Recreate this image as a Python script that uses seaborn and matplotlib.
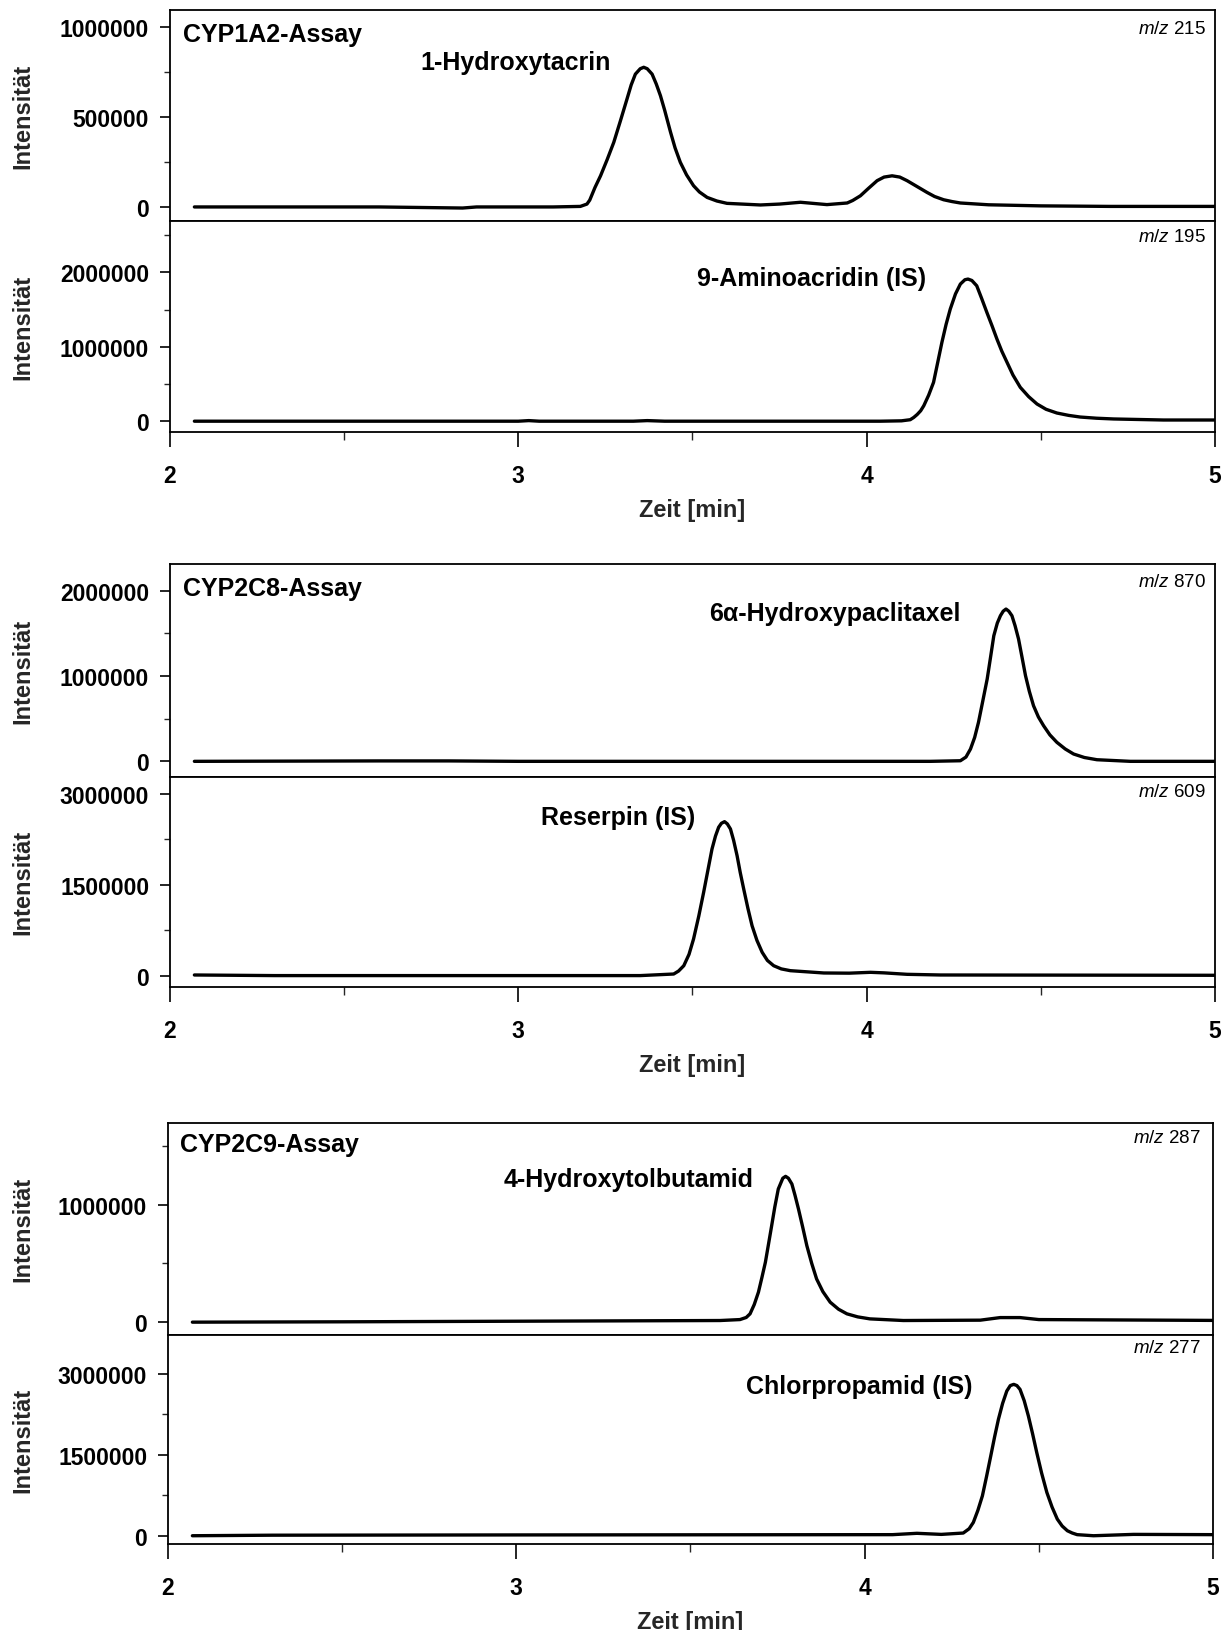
import numpy as np
import pandas as pd
import matplotlib
matplotlib.use("Agg")
import matplotlib.pyplot as plt
from matplotlib.ticker import MultipleLocator, FixedLocator
import seaborn as sns

sns.set_theme(style="white")
plt.rcParams['font.family'] = ['Liberation Sans', 'DejaVu Sans']
plt.rcParams['mathtext.fontset'] = 'custom'
plt.rcParams['mathtext.it'] = 'Liberation Sans:italic'
plt.rcParams['mathtext.rm'] = 'Liberation Sans'

# ---------------- data ----------------
t_1a2 = [2.07, 2.6, 2.84, 2.88, 3.1, 3.178, 3.197, 3.205, 3.22, 3.236,
         3.255, 3.274, 3.293, 3.312, 3.324, 3.336, 3.35, 3.36, 3.37, 3.384,
         3.396, 3.408, 3.42, 3.437, 3.45, 3.465, 3.483, 3.503, 3.52, 3.542,
         3.57, 3.599, 3.695, 3.75, 3.81, 3.886, 3.944, 3.96, 3.982, 4.005,
         4.03, 4.05, 4.073, 4.095, 4.116, 4.145, 4.173, 4.195, 4.221, 4.245,
         4.269, 4.35, 4.5, 4.7, 5.0]
i_1a2 = [2000, 2000, -4000, 2000, 2000, 5000, 18000, 40000, 110000, 175000,
         265000, 361000, 480000, 602000, 680000, 740000, 770000, 778000, 770000, 740000,
         685000, 620000, 540000, 417000, 330000, 250000, 180000, 120000, 85000, 55000,
         35000, 22000, 13000, 18000, 28000, 15000, 24000, 38000, 64000, 105000,
         148000, 168000, 175000, 168000, 148000, 115000, 83000, 60000, 42000, 32000,
         24000, 14000, 8000, 5000, 5000]

t_aa = [2.07, 3.0, 3.03, 3.06, 3.33, 3.37, 3.42, 4.039, 4.10, 4.125,
        4.135, 4.145, 4.155, 4.164, 4.178, 4.192, 4.204, 4.216, 4.228, 4.240,
        4.255, 4.269, 4.282, 4.291, 4.302, 4.316, 4.33, 4.345, 4.36, 4.374,
        4.388, 4.403, 4.42, 4.441, 4.465, 4.489, 4.515, 4.546, 4.58, 4.613,
        4.66, 4.709, 4.852, 5.0]
i_aa = [0, 0, 8000, 0, 0, 8000, 0, 0, 5000, 20000,
        50000, 90000, 140000, 208000, 350000, 522000, 790000, 1059000, 1300000, 1506000,
        1710000, 1842000, 1900000, 1909000, 1890000, 1819000, 1650000, 1462000, 1280000, 1103000,
        940000, 790000, 620000, 455000, 330000, 231000, 160000, 110000, 78000, 56000,
        40000, 30000, 16000, 16000]

t_2c8 = [2.07, 2.6, 2.8, 3.0, 4.183, 4.269, 4.285, 4.298, 4.31, 4.321,
         4.333, 4.346, 4.356, 4.365, 4.375, 4.384, 4.392, 4.400, 4.408, 4.417,
         4.426, 4.436, 4.446, 4.456, 4.467, 4.479, 4.493, 4.508, 4.526, 4.546,
         4.57, 4.594, 4.625, 4.661, 4.757, 5.0]
i_2c8 = [0, 5000, 5000, 0, 0, 7000, 50000, 144000, 280000, 457000,
         700000, 965000, 1230000, 1472000, 1620000, 1707000, 1760000, 1785000, 1760000, 1707000,
         1590000, 1434000, 1220000, 1004000, 820000, 652000, 520000, 417000, 310000, 223000,
         145000, 86000, 45000, 19000, 0, 0]

t_res = [2.07, 2.3, 3.0, 3.350, 3.446, 3.46, 3.475, 3.49, 3.503, 3.518,
         3.532, 3.545, 3.556, 3.566, 3.575, 3.583, 3.592, 3.600, 3.609, 3.618,
         3.628, 3.637, 3.647, 3.659, 3.671, 3.685, 3.700, 3.715, 3.733, 3.755,
         3.781, 3.877, 3.95, 4.011, 4.05, 4.116, 4.212, 5.0]
i_res = [10000, 0, 0, 0, 26000, 75000, 163000, 350000, 603000, 980000,
         1373000, 1760000, 2087000, 2300000, 2444000, 2510000, 2537000, 2500000, 2416000, 2230000,
         1976000, 1700000, 1427000, 1110000, 822000, 580000, 384000, 250000, 163000, 110000,
         81000, 43000, 40000, 54000, 45000, 21000, 10000, 5000]

t_2c9 = [2.07, 2.5, 3.0, 3.585, 3.642, 3.66, 3.671, 3.683, 3.695, 3.705,
         3.715, 3.724, 3.733, 3.742, 3.752, 3.765, 3.773, 3.781, 3.791, 3.80,
         3.810, 3.822, 3.834, 3.848, 3.862, 3.88, 3.901, 3.925, 3.949, 3.98,
         4.015, 4.111, 4.332, 4.389, 4.446, 4.5, 5.0]
i_2c9 = [0, 3000, 8000, 14000, 22000, 40000, 71000, 150000, 255000, 380000,
         510000, 665000, 821000, 980000, 1133000, 1225000, 1241000, 1225000, 1176000, 1080000,
         963000, 810000, 651000, 500000, 368000, 260000, 170000, 110000, 71000, 45000,
         28000, 14000, 17000, 39000, 39000, 22000, 15000]

t_chl = [2.07, 2.3, 3.0, 4.08, 4.15, 4.22, 4.283, 4.30, 4.312, 4.325,
         4.338, 4.35, 4.362, 4.373, 4.384, 4.396, 4.408, 4.418, 4.428, 4.437,
         4.446, 4.458, 4.470, 4.482, 4.494, 4.508, 4.523, 4.538, 4.553, 4.567,
         4.582, 4.596, 4.610, 4.657, 4.772, 5.0]
i_chl = [0, 10000, 15000, 20000, 45000, 25000, 50000, 130000, 247000, 470000,
         739000, 1100000, 1478000, 1830000, 2156000, 2450000, 2679000, 2780000, 2803000, 2780000,
         2710000, 2500000, 2217000, 1890000, 1541000, 1160000, 802000, 530000, 308000, 180000,
         92000, 50000, 20000, 0, 25000, 20000]

assays = ["CYP1A2-Assay", "CYP2C8-Assay", "CYP2C9-Assay"]
compounds = ["1-Hydroxytacrin", "9-Aminoacridin (IS)", "6α-Hydroxypaclitaxel",
             "Reserpin (IS)", "4-Hydroxytolbutamid", "Chlorpropamid (IS)"]
mz_values = ["215", "195", "870", "609", "287", "277"]
x_ticks = [2, 3, 4, 5]

traces = [(t_1a2, i_1a2), (t_aa, i_aa), (t_2c8, i_2c8), (t_res, i_res), (t_2c9, i_2c9), (t_chl, i_chl)]

# ---------------- layout ----------------
W, H = 1226, 1631
fig = plt.figure(figsize=(W / 100, H / 100), dpi=100)
fig.patch.set_facecolor("white")

# (left, right, top, bottom) in pixels for each panel
panel_px = [
    (170, 1215, 10.5, 221.7), (170, 1215, 221.7, 432.7),
    (170, 1215, 565, 777.7), (170, 1215, 777.7, 988),
    (168, 1213, 1124, 1335.5), (168, 1213, 1335.5, 1545),
]
ylims = [(-74400, 1.099e6), (-141000, 2.693e6),
         (-180000, 2.313e6), (-188000, 3.278e6),
         (-105000, 1.695e6), (-153000, 3.726e6)]
major = [500000, 1000000, 1000000, 1500000, 1000000, 1500000]
minor = [250000, 500000, 500000, 750000, 500000, 750000]
label_px = [(516, 63.4), (812, 279), (835, 613.6), (618, 818.5), (629, 1180), (859, 1387)]
mz_px = [(1206, 29), (1206, 238), (1206, 582.4), (1206, 792.5), (1201, 1139), (1201, 1349)]
assay_px = [(183, 35.4), (183, 588.6), (180, 1145)]

FS_TICK = 16.5
FS_LAB = 17
FS_ANN = 18

axes = []
for k, ((l, r, tp, bt), yl) in enumerate(zip(panel_px, ylims)):
    ax = fig.add_axes([l / W, 1 - bt / H, (r - l) / W, (bt - tp) / H])
    t, inten = traces[k]
    df = pd.DataFrame({"Zeit": t, "Intensität": inten})
    sns.lineplot(data=df, x="Zeit", y="Intensität", ax=ax, color="black", lw=2.4,
                 sort=False, estimator=None, solid_joinstyle="round", solid_capstyle="round")
    ax.set_xlim(2, 5)
    ax.set_ylim(*yl)
    ax.set_facecolor("white")
    for s in ax.spines.values():
        s.set_color("black")
        s.set_linewidth(1.3)
    ax.yaxis.set_major_locator(MultipleLocator(major[k]))
    ax.yaxis.set_minor_locator(MultipleLocator(minor[k]))
    ax.tick_params(axis="y", which="major", direction="out", length=7, width=1.2,
                   left=True, labelsize=FS_TICK, pad=8, colors="black")
    ax.tick_params(axis="y", which="minor", direction="out", length=4, width=1.0, left=True)
    ax.set_yticklabels([f"{int(v)}" for v in ax.get_yticks()], fontweight="bold")
    ax.set_ylim(*yl)
    ax.set_ylabel("Intensität", fontsize=FS_LAB, fontweight="bold", labelpad=0)
    ax.yaxis.set_label_coords((34 - l) / (r - l), 0.5)
    if k % 2 == 0:
        ax.set_xticks([])
        ax.set_xlabel("")
    else:
        ax.set_xticks(x_ticks)
        ax.xaxis.set_minor_locator(FixedLocator([2.5, 3.5, 4.5]))
        ax.tick_params(axis="x", which="major", direction="out", length=11, width=1.2,
                       bottom=True, labelsize=FS_TICK, pad=12, colors="black")
        ax.tick_params(axis="x", which="minor", direction="out", length=6, width=1.0, bottom=True)
        ax.set_xticklabels([str(v) for v in x_ticks], fontweight="bold")
        ax.set_xlabel("Zeit [min]", fontsize=FS_LAB, fontweight="bold", labelpad=8)
    ax.grid(False)
    axes.append(ax)


def fx(x):
    return x / W


def fy(y):
    return 1 - y / H


for k in range(6):
    lx, ly = label_px[k]
    fig.text(fx(lx), fy(ly), compounds[k], ha="center", va="center",
             fontsize=FS_ANN, fontweight="bold", color="black")
    mx, my = mz_px[k]
    fig.text(fx(mx), fy(my), r"$m/z$ " + mz_values[k], ha="right", va="center",
             fontsize=13.5, color="black")

for j in range(3):
    ax_, ay_ = assay_px[j]
    fig.text(fx(ax_), fy(ay_), assays[j], ha="left", va="center",
             fontsize=FS_ANN, fontweight="bold", color="black")

fig.savefig("out.png", dpi=100, facecolor="white")
